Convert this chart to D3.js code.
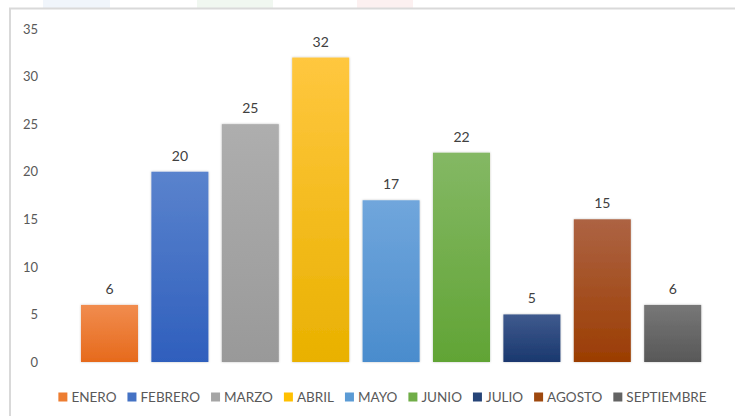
<!DOCTYPE html>
<meta charset="utf-8">
<style>
body { margin: 0; background: #fff; }
text { font-family: Lato, "Open Sans", sans-serif; fill: #595959; }
.axis text { font-size: 13px; }
.axis path, .axis line { display: none; }
.value { font-size: 14px; fill: #404040; }
.legend text { font-size: 13.5px; }
</style>
<svg width="735" height="416"></svg>
<script src="https://d3js.org/d3.v7.min.js"></script>
<script>

// data
var months = ["ENERO", "FEBRERO", "MARZO", "ABRIL", "MAYO", "JUNIO", "JULIO", "AGOSTO", "SEPTIEMBRE"];
var values = [6, 20, 25, 32, 17, 22, 5, 15, 6];
var yTicks = [0, 5, 10, 15, 20, 25, 30, 35];
// top / bottom colour of each bar's gradient
var topColors = ["#f18c4e", "#5a83cd", "#aeaeae", "#ffc73f", "#70a6dc", "#84b864", "#3f5a8e", "#ad6343", "#777777"];
var bottomColors = ["#e66a1c", "#2f5fbd", "#999999", "#e9b100", "#4a8ccd", "#61a435", "#1a386e", "#9b3d02", "#585858"];
var swatchColors = ["#ed7d31", "#4472c4", "#a5a5a5", "#ffc000", "#5b9bd5", "#70ad47", "#264478", "#9e480e", "#636363"];

var svg = d3.select("svg");

// faint watermark showing above the chart frame
var marks = [[43, 110, "#f0f5fb"], [197, 273, "#f0f7f0"], [357, 413, "#fcf0f0"]];
svg.selectAll("rect.wm").data(marks).enter().append("rect")
  .attr("class", "wm")
  .attr("x", function(d) { return d[0]; })
  .attr("width", function(d) { return d[1] - d[0]; })
  .attr("y", 0).attr("height", 8)
  .attr("fill", function(d) { return d[2]; });

// chart frame (runs off the right and bottom edge)
svg.append("rect")
  .attr("x", 10).attr("y", 8.5)
  .attr("width", 740).attr("height", 420)
  .attr("fill", "#fff")
  .attr("stroke", "#d9d9d9")
  .attr("stroke-width", 2);

var defs = svg.append("defs");
months.forEach(function(m, i) {
  var g = defs.append("linearGradient")
    .attr("id", "grad" + i)
    .attr("x1", 0).attr("y1", 0).attr("x2", 0).attr("y2", 1);
  g.append("stop").attr("offset", "0%").attr("stop-color", topColors[i]);
  g.append("stop").attr("offset", "100%").attr("stop-color", bottomColors[i]);
});

var shadow = defs.append("filter").attr("id", "shadow")
  .attr("x", "-20%").attr("y", "-20%").attr("width", "140%").attr("height", "140%");
shadow.append("feDropShadow")
  .attr("dx", 0).attr("dy", 0).attr("stdDeviation", 1.2)
  .attr("flood-color", "#000").attr("flood-opacity", 0.25);

var x = d3.scaleBand()
  .domain(months)
  .range([74.3, 707.9])
  .paddingInner(0.19)
  .paddingOuter(0.095);

var y = d3.scaleLinear()
  .domain([0, 35])
  .range([362, 29]);

svg.append("g")
  .attr("class", "axis")
  .attr("transform", "translate(38,0)")
  .call(d3.axisLeft(y).tickValues(yTicks).tickSize(0).tickPadding(0))
  .call(function(g) { g.select(".domain").remove(); });

var data = months.map(function(m, i) { return {month: m, value: values[i], i: i}; });

svg.append("g")
  .selectAll("rect")
  .data(data)
  .enter()
  .append("rect")
  .attr("x", function(d) { return x(d.month); })
  .attr("width", x.bandwidth())
  .attr("y", function(d) { return y(d.value); })
  .attr("height", function(d) { return y(0) - y(d.value); })
  .attr("fill", function(d) { return "url(#grad" + d.i + ")"; })
  .attr("filter", "url(#shadow)");

svg.append("g")
  .selectAll("text")
  .data(data)
  .enter()
  .append("text")
  .attr("class", "value")
  .attr("text-anchor", "middle")
  .attr("x", function(d) { return x(d.month) + x.bandwidth() / 2; })
  .attr("y", function(d) { return y(d.value) - 11; })
  .text(function(d) { return d.value; });

// legend, centred under the plot
var legend = svg.append("g").attr("class", "legend");
var items = legend.selectAll("g")
  .data(data)
  .enter()
  .append("g");
items.append("rect")
  .attr("width", 9).attr("height", 9)
  .attr("y", -9.5)
  .attr("fill", function(d) { return swatchColors[d.i]; });
items.append("text")
  .attr("x", 13)
  .attr("y", 0)
  .text(function(d) { return d.month; });

var cursor = 0;
items.each(function() {
  var w = this.querySelector("text").getComputedTextLength();
  d3.select(this).attr("transform", "translate(" + cursor + ",0)");
  cursor += 13 + w + 11;
});
var total = cursor - 11;
legend.attr("transform", "translate(" + ((58 + 707) / 2 - total / 2) + ",402)");

</script>
